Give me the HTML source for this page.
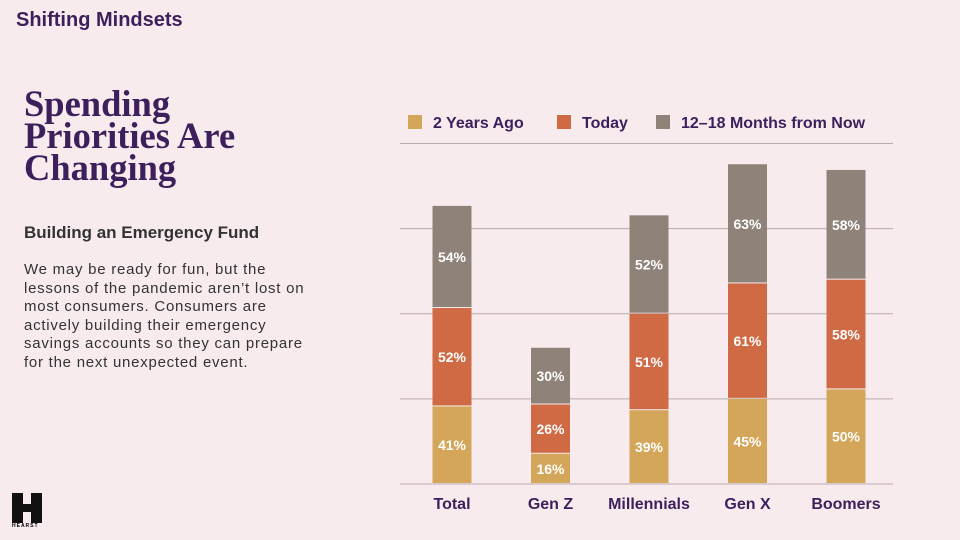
<!DOCTYPE html>
<html><head><meta charset="utf-8"><style>
body{margin:0;width:960px;height:540px;background:#f7ebee;font-family:"Liberation Sans",sans-serif;position:relative;overflow:hidden}
.t{position:absolute;color:#3d1f5c}
</style></head><body>
<div class="t" style="left:16px;top:9px;font-size:20px;font-weight:bold">Shifting Mindsets</div>
<div class="t" style="left:24px;top:88px;font-family:'Liberation Serif',serif;font-weight:bold;font-size:36.5px;line-height:32px">Spending<br>Priorities Are<br>Changing</div>
<div class="t" style="left:24px;top:223px;font-size:17px;font-weight:bold;color:#333">Building an Emergency Fund</div>
<div class="t" style="left:24px;top:261px;white-space:nowrap;font-size:15px;line-height:18.5px;color:#333;letter-spacing:0.75px">We may be ready for fun, but the<br>lessons of the pandemic aren’t lost on<br>most consumers. Consumers are<br>actively building their emergency<br>savings accounts so they can prepare<br>for the next unexpected event.</div>
<div style="position:absolute;left:12px;top:493px;width:30px;height:34px">
<div style="position:absolute;left:0;top:0;width:11px;height:30px;background:#111"></div>
<div style="position:absolute;left:19px;top:0;width:11px;height:30px;background:#111"></div>
<div style="position:absolute;left:8px;top:11px;width:14px;height:8px;background:#111"></div>
<div style="position:absolute;left:0;top:30px;font-size:5px;font-weight:bold;letter-spacing:1px">HEARST</div></div>
<svg id="c" width="960" height="540" style="position:absolute;left:0;top:0"></svg>
<script>
const categories=["Total","Gen Z","Millennials","Gen X","Boomers"];
const series=["2 Years Ago","Today","12–18 Months from Now"];
const twoYearsAgo=[41,16,39,45,50];
const today=[52,26,51,61,58];
const future=[54,30,52,63,58];
const gridTicks=[0,45,90,135,180];
const colors=["#d4a65a","#cf6a45","#8f8279"];
const NS="http://www.w3.org/2000/svg",svg=document.getElementById('c');
const y0=484,pxPer=1.892,x0=452,dx=98.5,bw=39;
const yS=v=>y0-v*pxPer, xS=i=>x0+i*dx;
function el(t,a,p){const e=document.createElementNS(NS,t);for(const k in a)e.setAttribute(k,a[k]);(p||svg).appendChild(e);return e;}
gridTicks.forEach(v=>{const l=el('line',{x1:400,x2:893,y1:yS(v),y2:yS(v),stroke:'#b9aaae','stroke-width':1});

});
const data=[twoYearsAgo,today,future];
categories.forEach((c,i)=>{let base=0;
data.forEach((arr,s)=>{const v=arr[i];
const r=el('rect',{x:xS(i)-bw/2,y:yS(base+v),width:bw,height:v*pxPer-1,fill:colors[s]});


const t=el('text',{x:xS(i),y:yS(base+v/2)+5,'text-anchor':'middle','font-size':14,'font-weight':'bold',fill:'#fff'});
t.textContent=v+'%';


base+=v;});
const lab=el('text',{x:xS(i),y:509,'text-anchor':'middle','font-size':16,'font-weight':'bold',fill:'#3d1f5c'});
lab.textContent=c;

});
const lx=[408,557,656];
series.forEach((s,i)=>{const r=el('rect',{x:lx[i],y:115,width:14,height:14,fill:colors[i]});


const t=el('text',{x:lx[i]+25,y:128,'font-size':16,'font-weight':'bold',fill:'#3d1f5c'});
t.textContent=s;

});
</script>
</body></html>
